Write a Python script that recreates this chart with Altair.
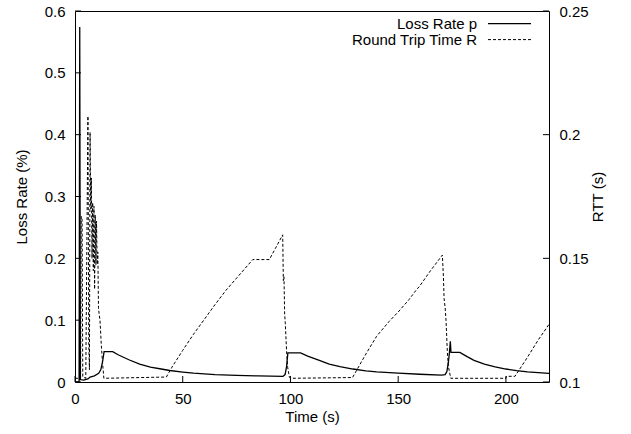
import altair as alt
import pandas as pd

# ---- data ----
series_names = ["Loss Rate p", "Round Trip Time R"]

loss_t = [0, 1.9, 2.2, 2.5, 4, 6, 7, 9, 11, 12, 12.8, 13.5, 17.5, 20, 25, 30, 35, 40, 44,
          50, 55, 65, 75, 85, 96.5, 97.5, 98.2, 98.8, 104.7, 108, 113.4, 118, 123, 129,
          135, 140, 150, 160, 170, 171.8, 172.6, 173.3, 173.8, 174.2, 174.5, 178.6, 182,
          185.2, 190, 195, 200, 205, 210, 215, 220]
loss_p = [0, 0, 0.574, 0.004, 0.003, 0.005, 0.008, 0.01, 0.014, 0.02, 0.033, 0.049, 0.049,
          0.044, 0.036, 0.029, 0.024, 0.021, 0.0186, 0.016, 0.0142, 0.012, 0.0107, 0.0098,
          0.009, 0.012, 0.025, 0.047, 0.047, 0.042, 0.035, 0.029, 0.025, 0.021, 0.018,
          0.0163, 0.0143, 0.0125, 0.0112, 0.012, 0.017, 0.032, 0.048, 0.066, 0.048, 0.048,
          0.041, 0.035, 0.029, 0.0245, 0.021, 0.0185, 0.0165, 0.015, 0.0138]

rtt_t = [0.0, 2.6, 2.9, 3.3, 3.6, 5.0, 5.5, 6.0, 6.4, 6.7, 7.0, 7.3, 7.6, 7.9, 8.2, 8.5,
         8.8, 9.1, 9.4, 9.7, 10.0, 10.3, 10.6, 10.9, 11.2, 11.6, 12.2, 12.8, 13.4, 42.4,
         45, 50, 55, 60, 65, 70, 75, 80, 82.5, 90.2, 93, 96.4, 96.7, 97.0, 97.3, 97.6,
         98.2, 98.7, 99.5, 100, 128.8, 135, 140, 145.8, 150, 155, 158.2, 160, 165, 170.5,
         171.0, 171.3, 171.8, 172.2, 172.8, 173.3, 174.4, 200, 200.3, 204.2, 210, 215, 220]
rtt_r = [0.1015, 0.1015, 0.167, 0.1655, 0.102, 0.1015, 0.155, 0.2075, 0.115, 0.105, 0.201,
         0.170, 0.1825, 0.150, 0.1725, 0.145, 0.171, 0.1375, 0.1675, 0.1475, 0.165, 0.1475,
         0.1525, 0.130, 0.1275, 0.125, 0.115, 0.1075, 0.1015, 0.102, 0.106, 0.1128, 0.1193,
         0.1253, 0.1313, 0.137, 0.142, 0.147, 0.1495, 0.1495, 0.154, 0.1595, 0.141, 0.1425,
         0.1275, 0.1238, 0.1125, 0.106, 0.102, 0.1015, 0.1018, 0.1113, 0.1185, 0.1245,
         0.1283, 0.1333, 0.137, 0.1388, 0.145, 0.1513, 0.1425, 0.1338, 0.130, 0.125,
         0.1125, 0.1063, 0.1015, 0.1015, 0.1023, 0.1023, 0.11, 0.117, 0.1233]

x_ticks = [0, 50, 100, 150, 200]
loss_ticks = [0, 0.1, 0.2, 0.3, 0.4, 0.5, 0.6]
rtt_ticks = [0.1, 0.15, 0.2, 0.25]

# ---- layout / style ----
W, H = 474, 371
FONT = "Liberation Sans"
FS = 15
TICK = 6

loss_df = pd.DataFrame({"t": loss_t, "p": loss_p})
rtt_df = pd.DataFrame({"t": rtt_t, "r": rtt_r})

xscale = alt.Scale(domain=[0, 220], nice=False, zero=False)
lscale = alt.Scale(domain=[0, 0.6], nice=False)
rscale = alt.Scale(domain=[0.1, 0.25], nice=False, zero=False)

x_axis = alt.Axis(title="Time (s)", values=x_ticks, ticks=False, tickSize=0,
                  domain=False, grid=False, labelPadding=9, titlePadding=3,
                  labelFlush=False)

loss_line = alt.Chart(loss_df).mark_line(color="black", strokeWidth=1.3, clip=True).encode(
    x=alt.X("t:Q", scale=xscale, axis=x_axis),
    y=alt.Y("p:Q", scale=lscale,
            axis=alt.Axis(title="Loss Rate (%)", orient="left", values=loss_ticks,
                          format="~g", ticks=False, tickSize=0, domain=False, grid=False,
                          labelPadding=10, titlePadding=15, labelFlush=False)),
)

rtt_line = alt.Chart(rtt_df).mark_line(color="black", strokeWidth=1, strokeDash=[3, 2],
                                       clip=True).encode(
    x=alt.X("t:Q", scale=xscale, axis=x_axis),
    y=alt.Y("r:Q", scale=rscale,
            axis=alt.Axis(title="RTT (s)", orient="right", values=rtt_ticks, format="~g",
                          ticks=False, tickSize=0, domain=False, grid=False,
                          labelPadding=10, titlePadding=17, titleAngle=270,
                          labelFlush=False)),
)

left_ticks = alt.Chart(pd.DataFrame({"v": loss_ticks})).mark_rule(
    color="black", strokeWidth=1).encode(
    y=alt.Y("v:Q", scale=lscale, axis=None), x=alt.value(0), x2=alt.value(TICK))

bottom_ticks = alt.Chart(pd.DataFrame({"t": x_ticks})).mark_rule(
    color="black", strokeWidth=1).encode(
    x=alt.X("t:Q", scale=xscale, axis=x_axis), y=alt.value(H), y2=alt.value(H - TICK))

right_ticks = alt.Chart(pd.DataFrame({"v": rtt_ticks})).mark_rule(
    color="black", strokeWidth=1).encode(
    y=alt.Y("v:Q", scale=rscale, axis=None), x=alt.value(W), x2=alt.value(W - TICK))

# ---- legend (gnuplot style: label on the left, sample on the right) ----
leg1_text = alt.Chart(pd.DataFrame({"name": [series_names[0]]})).mark_text(
    align="right", baseline="alphabetic", font=FONT, fontSize=FS, color="black").encode(
    text="name:N", x=alt.value(402), y=alt.value(17.6))
leg2_text = alt.Chart(pd.DataFrame({"name": [series_names[1]]})).mark_text(
    align="right", baseline="alphabetic", font=FONT, fontSize=FS, color="black").encode(
    text="name:N", x=alt.value(402), y=alt.value(33.6))
leg1_line = alt.Chart(pd.DataFrame({"name": [series_names[0]]})).mark_rule(
    color="black", strokeWidth=1.3).encode(
    x=alt.value(413), x2=alt.value(456), y=alt.value(12.6))
leg2_line = alt.Chart(pd.DataFrame({"name": [series_names[1]]})).mark_rule(
    color="black", strokeWidth=1, strokeDash=[3, 2]).encode(
    x=alt.value(413), x2=alt.value(456), y=alt.value(28.6))

chart = alt.layer(
    loss_line, rtt_line, left_ticks, bottom_ticks, right_ticks,
    leg1_text, leg2_text, leg1_line, leg2_line,
).resolve_scale(y="independent").properties(
    width=W, height=H,
    autosize=alt.AutoSizeParams(type="none"),
    padding={"left": 75, "top": 11, "right": 82, "bottom": 52},
    background="white",
).configure_view(
    stroke="black", strokeWidth=1,
).configure_axis(
    labelFont=FONT, titleFont=FONT, labelFontSize=FS, titleFontSize=FS,
    titleFontWeight="normal", labelColor="black", titleColor="black",
)

chart.save("out.html", embed_options={"renderer": "svg", "actions": False})
